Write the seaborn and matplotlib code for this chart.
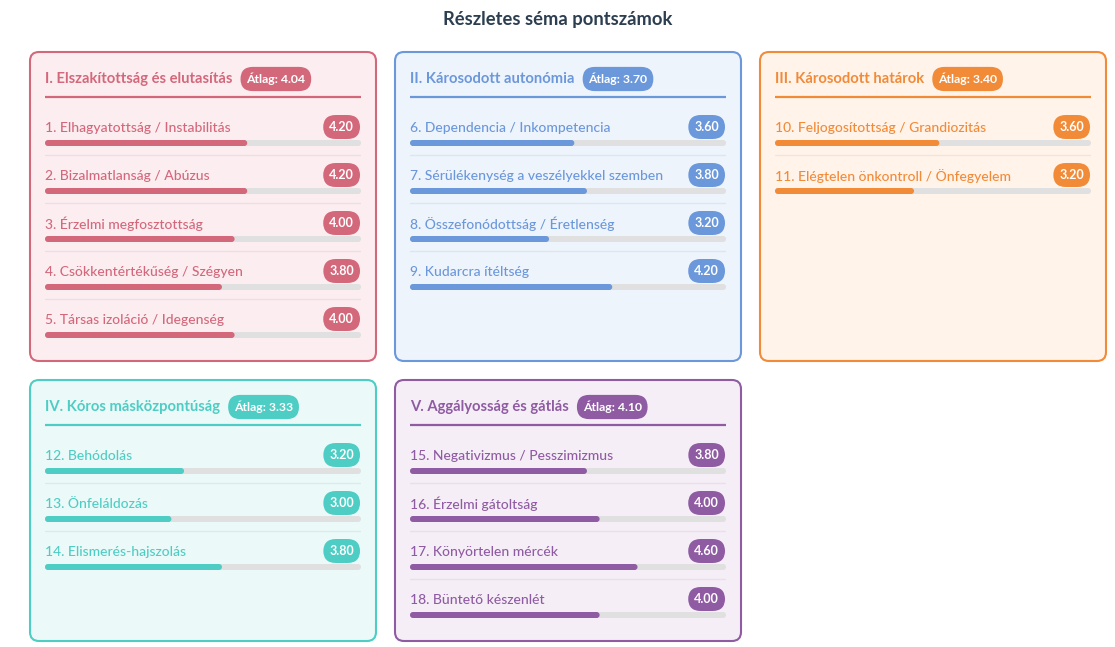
import numpy as np
import pandas as pd
import matplotlib
matplotlib.use("Agg")
import matplotlib.pyplot as plt
from matplotlib.patches import FancyBboxPatch
import seaborn as sns

# Domain data
domains = ["I. Elszakítottság és elutasítás", "II. Károsodott autonómia",
           "III. Károsodott határok", "IV. Kóros másközpontúság",
           "V. Aggályosság és gátlás"]
domain_avgs = [4.04, 3.70, 3.40, 3.33, 4.10]

schemas_1 = ["1. Elhagyatottság / Instabilitás", "2. Bizalmatlanság / Abúzus",
             "3. Érzelmi megfosztottság", "4. Csökkentértékűség / Szégyen",
             "5. Társas izoláció / Idegenség"]
scores_1 = [4.20, 4.20, 4.00, 3.80, 4.00]
schemas_2 = ["6. Dependencia / Inkompetencia", "7. Sérülékenység a veszélyekkel szemben",
             "8. Összefonódottság / Éretlenség", "9. Kudarcra ítéltség"]
scores_2 = [3.60, 3.80, 3.20, 4.20]
schemas_3 = ["10. Feljogosítottság / Grandiozitás", "11. Elégtelen önkontroll / Önfegyelem"]
scores_3 = [3.60, 3.20]
schemas_4 = ["12. Behódolás", "13. Önfeláldozás", "14. Elismerés-hajszolás"]
scores_4 = [3.20, 3.00, 3.80]
schemas_5 = ["15. Negativizmus / Pesszimizmus", "16. Érzelmi gátoltság",
             "17. Könyörtelen mércék", "18. Büntető készenlét"]
scores_5 = [3.80, 4.00, 4.60, 4.00]

SCALE_MIN, SCALE_MAX = 1, 6

colors = ["#d4687b", "#6b97db", "#f28b38", "#4ecdc4", "#8f5ba3"]
bg_colors = ["#fcedf0", "#eef4fc", "#fff3ea", "#ebf9f8", "#f5eef6"]

all_schemas = [schemas_1, schemas_2, schemas_3, schemas_4, schemas_5]
all_scores = [scores_1, scores_2, scores_3, scores_4, scores_5]

sns.set_theme(style="white")
plt.rcParams['font.family'] = ['Lato', 'DejaVu Sans']

W, H = 1115, 647
fig = plt.figure(figsize=(W / 100, H / 100), dpi=100)
fig.patch.set_facecolor("white")


def px_axes(x0, y0, w, h):
    return fig.add_axes([x0 / W, 1 - (y0 + h) / H, w / W, h / H])


fig.text(0.5, 1 - 20 / H, "Részletes séma pontszámok", ha="center", va="center",
         fontsize=13.2, fontweight="bold", color="#2c3e50")

# panel boxes (x, y, w, h) in pixels
boxes = [(29, 51, 348, 311), (394, 51, 348, 311), (759, 51, 348, 311),
         (29, 379, 348, 263), (394, 379, 348, 263)]

renderer = fig.canvas.get_renderer()
ROW = 48

for i, (bx, by, bw, bh) in enumerate(boxes):
    c = colors[i]
    pax = px_axes(bx, by, bw, bh)
    pax.set_xlim(0, bw)
    pax.set_ylim(bh, 0)
    pax.axis("off")
    pax.add_patch(FancyBboxPatch((1, 1), bw - 2, bh - 2,
                                 boxstyle="round,pad=0,rounding_size=9",
                                 fc=bg_colors[i], ec=c, lw=1.5, clip_on=False))
    head = pax.text(16, 28, domains[i], ha="left", va="center", fontsize=10.6,
                    fontweight="bold", color=c)
    ext = head.get_window_extent(renderer)
    badge_x = (ext.x1 - bx) + 14
    pax.text(badge_x, 28, f"Átlag: {domain_avgs[i]:.2f}", ha="left", va="center",
             fontsize=8.8, fontweight="bold", color="white",
             bbox=dict(boxstyle="round,pad=0.48,rounding_size=1.0", fc=c, ec="none"))
    pax.plot([16, bw - 16], [45.5, 45.5], color=c, lw=1.6, solid_capstyle="butt")

    names = all_schemas[i]
    vals = all_scores[i]
    n = len(names)
    df = pd.DataFrame({"schema": names,
                       "fill": [v - SCALE_MIN for v in vals],
                       "track": [SCALE_MAX - SCALE_MIN] * n})

    iax = px_axes(bx + 16, by + 92 - ROW / 2, bw - 32, ROW * n)
    iax.patch.set_alpha(0)
    sns.barplot(data=df, x="track", y="schema", orient="h", color="#e0e0e0",
                width=6 / ROW, ax=iax, saturation=1)
    sns.barplot(data=df, x="fill", y="schema", orient="h", color=c,
                width=6 / ROW, ax=iax, saturation=1)
    iax.set_xlim(0, SCALE_MAX - SCALE_MIN)
    iax.set_ylim(n - 0.5, -0.5)
    iax.axis("off")

    # rounded bar ends
    x_unit = (bw - 32) / (SCALE_MAX - SCALE_MIN)
    r = 3 / x_unit
    aspect = (1 / ROW) / (1 / x_unit)
    for p in list(iax.patches):
        x, y = p.get_x(), p.get_y()
        w, h = p.get_width(), p.get_height()
        fc = p.get_facecolor()
        p.remove()
        iax.add_patch(FancyBboxPatch((x, y), w, h,
                                     boxstyle=f"round,pad=0,rounding_size={r}",
                                     mutation_aspect=aspect, fc=fc, ec="none"))

    for k, (name, v) in enumerate(zip(names, vals)):
        iax.text(0, k - 15 / ROW, name, ha="left", va="center", fontsize=10,
                 fontweight="medium", color=c)
        iax.text(SCALE_MAX - SCALE_MIN - 0.11, k - 16 / ROW, f"{v:.2f}",
                 ha="right", va="center", fontsize=9, fontweight="bold",
                 color="white",
                 bbox=dict(boxstyle="round,pad=0.48,rounding_size=1.0", fc=c, ec="none"))
        if k < n - 1:
            iax.plot([0, SCALE_MAX - SCALE_MIN], [k + 12 / ROW] * 2,
                     color="#000000", alpha=0.06, lw=1)

fig.savefig("out.png", dpi=100, facecolor="white")
